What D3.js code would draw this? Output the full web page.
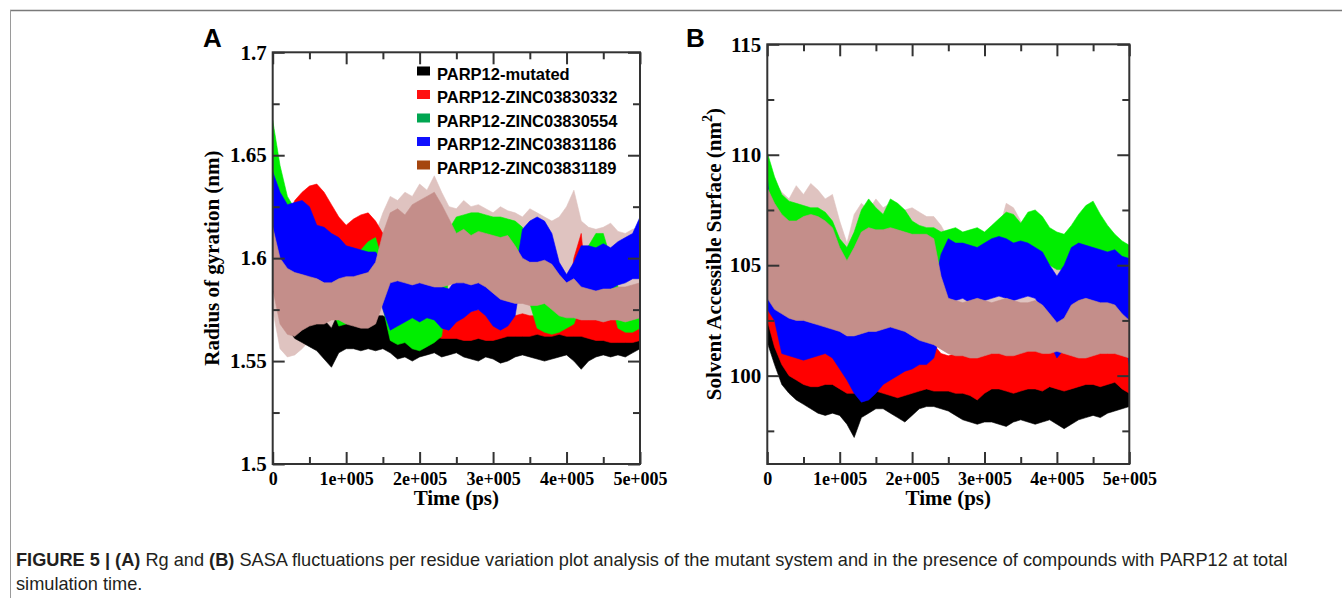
<!DOCTYPE html>
<html>
<head>
<meta charset="utf-8">
<script src="https://cdn.jsdelivr.net/npm/d3@7"></script>
<style>
  body { margin: 0; background: #fff; }
  svg { display: block; }
</style>
</head>
<body>
<svg id="fig" width="1342" height="598"></svg>
<script>
// sample times (ps), one envelope point every 10 ns
var timePs = [0,10000,20000,30000,40000,50000,60000,70000,80000,90000,
  100000,110000,120000,130000,140000,150000,160000,170000,180000,190000,
  200000,210000,220000,230000,240000,250000,260000,270000,280000,290000,
  300000,310000,320000,330000,340000,350000,360000,370000,380000,390000,
  400000,410000,420000,430000,440000,450000,460000,470000,480000,490000,
  500000];

var seriesNames = ["PARP12-mutated", "PARP12-ZINC03830332", "PARP12-ZINC03830554", "PARP12-ZINC03831186", "PARP12-ZINC03831189"];
var plotColors = ["#000000", "#ff0000", "#00ee00", "#0000ff", "#c48e8a"];
var legendColors = ["#000000", "#ff1010", "#00a651", "#1010ff", "#a5460f"];
var fringeColor = "#dfc3c0"; // sparse outer spikes of the ZINC03831189 trace

// (A) radius of gyration (nm), low / high envelope of each trace
var rgMutLo = [1.585,1.575,1.566,1.561,1.559,1.557,1.555,1.551,1.547,1.554,
  1.556,1.556,1.555,1.556,1.555,1.556,1.554,1.551,1.552,1.550,
  1.552,1.553,1.554,1.552,1.553,1.554,1.552,1.551,1.550,1.552,
  1.551,1.549,1.550,1.552,1.553,1.552,1.551,1.550,1.551,1.552,
  1.553,1.550,1.546,1.550,1.552,1.553,1.552,1.553,1.552,1.554,1.556];
var rgMutHi = [1.600,1.592,1.584,1.578,1.577,1.576,1.574,1.570,1.566,1.574,
  1.574,1.572,1.571,1.572,1.572,1.572,1.570,1.569,1.570,1.567,
  1.569,1.570,1.571,1.569,1.570,1.570,1.569,1.568,1.567,1.569,
  1.569,1.567,1.568,1.569,1.570,1.569,1.567,1.566,1.567,1.568,
  1.569,1.567,1.565,1.567,1.569,1.569,1.569,1.570,1.569,1.570,1.572];
var rg332Lo = [1.590,1.595,1.600,1.604,1.606,1.607,1.608,1.606,1.602,1.600,
  1.600,1.602,1.603,1.602,1.600,1.596,1.562,1.562,1.563,1.562,
  1.561,1.562,1.562,1.561,1.561,1.561,1.560,1.560,1.561,1.560,
  1.560,1.561,1.562,1.562,1.562,1.562,1.563,1.562,1.562,1.563,
  1.562,1.562,1.562,1.561,1.560,1.560,1.559,1.559,1.559,1.559,1.560];
var rg332Hi = [1.610,1.615,1.620,1.628,1.632,1.635,1.636,1.632,1.626,1.620,
  1.616,1.619,1.621,1.622,1.618,1.612,1.575,1.572,1.573,1.571,
  1.572,1.573,1.572,1.573,1.574,1.574,1.575,1.574,1.575,1.574,
  1.575,1.574,1.573,1.572,1.573,1.572,1.572,1.571,1.572,1.572,
  1.573,1.600,1.612,1.575,1.576,1.575,1.576,1.575,1.576,1.577,1.578];
var rg554Lo = [1.628,1.618,1.608,1.602,1.600,1.596,1.592,1.588,1.576,1.567,
  1.568,1.576,1.584,1.590,1.590,1.576,1.560,1.558,1.559,1.556,
  1.555,1.557,1.559,1.562,1.592,1.597,1.598,1.600,1.600,1.598,
  1.596,1.595,1.595,1.595,1.593,1.578,1.566,1.564,1.563,1.564,
  1.566,1.568,1.578,1.586,1.592,1.592,1.580,1.566,1.564,1.564,1.566];
var rg554Hi = [1.667,1.645,1.630,1.624,1.620,1.615,1.610,1.608,1.598,1.584,
  1.588,1.598,1.604,1.608,1.610,1.598,1.582,1.578,1.580,1.578,
  1.577,1.577,1.580,1.588,1.614,1.620,1.621,1.622,1.622,1.621,
  1.620,1.620,1.619,1.618,1.615,1.598,1.585,1.584,1.582,1.584,
  1.584,1.588,1.598,1.606,1.612,1.612,1.600,1.586,1.582,1.582,1.585];
var rg186Lo = [1.612,1.592,1.583,1.585,1.588,1.590,1.590,1.588,1.585,1.588,
  1.589,1.590,1.590,1.589,1.588,1.575,1.565,1.567,1.569,1.571,
  1.569,1.571,1.570,1.566,1.565,1.569,1.571,1.574,1.575,1.572,
  1.567,1.565,1.567,1.572,1.594,1.598,1.598,1.597,1.592,1.578,
  1.574,1.577,1.584,1.583,1.582,1.585,1.585,1.587,1.588,1.590,1.590];
var rg186Hi = [1.642,1.632,1.626,1.627,1.628,1.625,1.616,1.615,1.612,1.610,
  1.606,1.605,1.604,1.603,1.603,1.598,1.592,1.590,1.592,1.594,
  1.592,1.597,1.592,1.586,1.585,1.590,1.592,1.595,1.597,1.592,
  1.588,1.585,1.588,1.592,1.614,1.618,1.620,1.618,1.612,1.598,
  1.592,1.598,1.606,1.606,1.605,1.607,1.605,1.608,1.610,1.612,1.620];
var rg189Lo = [1.585,1.568,1.563,1.562,1.565,1.567,1.568,1.568,1.570,1.570,
  1.568,1.567,1.566,1.566,1.568,1.578,1.588,1.589,1.588,1.587,
  1.588,1.587,1.586,1.586,1.587,1.588,1.588,1.587,1.588,1.586,
  1.583,1.580,1.579,1.578,1.578,1.577,1.577,1.578,1.575,1.572,
  1.571,1.571,1.570,1.570,1.570,1.569,1.570,1.570,1.569,1.570,1.571];
var rg189Hi = [1.615,1.600,1.595,1.593,1.592,1.591,1.590,1.588,1.588,1.590,
  1.591,1.591,1.592,1.593,1.598,1.612,1.622,1.624,1.621,1.626,
  1.628,1.630,1.632,1.626,1.619,1.612,1.614,1.611,1.613,1.612,
  1.611,1.610,1.611,1.606,1.600,1.598,1.598,1.599,1.597,1.592,
  1.588,1.590,1.586,1.585,1.584,1.585,1.585,1.586,1.586,1.587,1.588];
var rg189FringeLo = [1.575,1.556,1.552,1.553,1.556,1.560,1.562,1.563,1.564,1.565,
  1.564,1.563,1.562,1.562,1.563,1.568,1.575,1.576,1.575,1.574,
  1.575,1.574,1.573,1.573,1.574,1.575,1.575,1.574,1.575,1.574,
  1.572,1.570,1.569,1.568,1.568,1.567,1.567,1.568,1.566,1.565,
  1.565,1.565,1.564,1.564,1.564,1.563,1.564,1.564,1.563,1.564,1.565];
var rg189FringeHi = [1.625,1.615,1.605,1.600,1.598,1.600,1.598,1.597,1.600,1.602,
  1.605,1.603,1.606,1.605,1.612,1.622,1.630,1.628,1.632,1.630,
  1.636,1.633,1.640,1.632,1.625,1.624,1.628,1.625,1.626,1.624,
  1.622,1.625,1.623,1.622,1.620,1.624,1.622,1.620,1.618,1.620,
  1.625,1.633,1.618,1.615,1.614,1.615,1.617,1.613,1.612,1.614,1.615];

// (B) solvent accessible surface (nm^2), low / high envelope of each trace
var sasaMutLo = [101.5,100.5,99.6,99.2,98.9,98.7,98.5,98.3,98.2,98.3,
  98.2,97.8,97.2,98.1,98.3,98.5,98.5,98.3,98.1,97.9,
  98.2,98.5,98.6,98.6,98.5,98.4,98.2,98.0,97.9,97.8,
  97.9,97.9,97.8,97.7,97.9,98.0,97.9,97.8,97.9,98.0,
  97.8,97.6,97.8,98.0,98.1,98.2,98.1,98.3,98.4,98.5,98.6];
var sasaMutHi = [104.0,102.5,101.8,101.3,101.0,100.8,100.6,100.4,100.3,100.4,
  100.2,99.8,99.6,100.3,100.5,100.6,100.8,100.7,100.4,100.2,
  100.5,100.8,101.0,100.9,100.8,100.6,100.4,100.3,100.2,100.2,
  100.3,100.3,100.2,100.0,100.3,100.4,100.3,100.1,100.2,100.4,
  100.3,100.1,100.2,100.3,100.4,100.5,100.4,100.5,100.6,100.7,100.8];
var sasa332Lo = [102.5,101.3,100.5,100.0,99.8,99.6,99.5,99.5,99.6,99.6,
  99.4,99.2,99.2,99.3,99.3,99.3,99.2,99.1,99.0,99.1,
  99.2,99.3,99.4,99.3,99.3,99.3,99.2,99.2,99.1,98.9,
  99.2,99.4,99.4,99.3,99.2,99.3,99.4,99.4,99.3,99.5,
  99.4,99.3,99.4,99.5,99.6,99.6,99.5,99.6,99.7,99.4,99.2];
var sasa332Hi = [104.5,103.5,102.8,102.4,102.2,102.0,101.9,101.8,101.8,101.8,
  101.6,101.5,101.5,101.6,101.7,101.7,101.6,101.4,101.2,101.2,
  101.3,101.4,101.5,101.4,101.0,100.9,101.0,101.0,100.9,100.8,
  101.0,101.2,101.3,101.2,101.0,101.2,101.3,101.3,101.1,101.2,
  101.2,101.0,101.0,101.1,101.2,101.3,101.2,101.3,101.4,101.3,101.2];
var sasa554Lo = [107.5,106.5,106.0,105.8,105.6,105.5,105.5,105.4,105.3,105.2,
  104.8,104.3,104.5,105.0,105.2,105.0,104.8,104.8,104.9,105.0,
  105.1,105.0,104.9,104.8,104.8,104.8,104.8,104.7,104.7,104.7,
  104.8,104.8,105.0,105.2,105.2,105.0,105.3,105.4,105.2,105.0,
  104.8,104.8,104.9,105.0,105.2,105.3,105.0,104.8,104.6,104.6,104.5];
var sasa554Hi = [110.1,109.0,108.2,107.9,107.8,107.7,107.6,107.6,107.4,107.0,
  106.2,105.8,106.5,107.5,108.0,107.6,107.3,108.0,107.8,107.5,
  107.0,106.8,106.7,106.7,106.5,106.6,106.7,106.5,106.6,106.7,
  106.5,106.8,107.1,107.4,107.3,106.9,107.4,107.5,107.2,106.7,
  106.5,106.4,106.8,107.3,107.7,107.9,107.3,106.8,106.4,106.1,105.9];
var sasa186Lo = [103.0,102.5,101.0,100.9,100.8,100.7,100.8,100.9,101.0,100.8,
  100.3,99.8,99.2,98.8,98.9,99.2,99.6,99.8,100.0,100.2,
  100.3,100.5,100.5,100.8,102.0,103.2,103.4,103.5,103.3,103.2,
  103.4,103.5,103.6,103.5,103.4,103.5,103.6,103.5,103.0,101.5,
  100.8,101.2,103.0,103.3,103.2,103.0,103.1,103.0,103.2,102.5,100.5];
var sasa186Hi = [109.0,104.8,104.0,104.0,103.8,103.6,103.5,103.4,103.3,103.4,
  103.3,103.0,102.8,103.0,103.4,103.2,103.0,103.2,103.4,103.3,
  103.0,103.2,103.5,104.0,105.5,106.2,106.0,106.0,105.9,105.8,
  106.0,106.2,106.3,106.2,106.0,106.1,106.0,105.8,105.6,105.0,
  104.5,105.0,105.8,106.0,105.9,105.8,105.7,105.6,105.7,105.4,105.3];
var sasa189Lo = [103.5,103.0,102.8,102.6,102.5,102.5,102.4,102.3,102.2,102.1,
  102.0,101.8,101.8,101.9,102.0,102.0,102.1,102.2,102.1,102.0,
  101.8,101.6,101.5,101.4,101.2,101.0,100.9,100.9,100.8,100.8,
  100.9,101.0,101.0,100.9,100.9,101.0,101.1,101.1,101.0,101.0,
  101.1,101.0,100.9,100.8,100.8,100.9,101.0,101.0,101.0,100.9,100.8];
var sasa189Hi = [108.5,107.8,107.3,107.0,107.0,107.2,107.3,107.2,107.0,106.7,
  105.8,105.2,105.8,106.5,106.7,106.6,106.6,106.7,106.6,106.5,
  106.4,106.4,106.4,106.2,104.5,103.5,103.4,103.3,103.4,103.5,
  103.4,103.3,103.4,103.5,103.4,103.3,103.3,103.4,103.2,102.8,
  102.4,102.6,103.2,103.4,103.5,103.4,103.3,103.3,103.2,102.8,102.5];
var sasa189FringeHi = [109.0,108.8,108.3,108.0,108.6,108.2,108.7,108.4,108.0,108.2,
  107.0,106.0,107.3,107.8,107.5,108.0,107.6,107.8,107.4,107.5,
  107.6,107.4,107.2,107.2,106.8,106.2,106.3,106.3,106.4,106.4,
  106.3,106.5,106.6,107.8,107.6,107.0,106.6,106.8,106.6,106.5,
  106.4,106.3,106.5,106.8,107.0,106.8,106.6,106.4,106.2,106.0,105.8];

// axis ticks
var timeMajor = [0, 100000, 200000, 300000, 400000, 500000];
var timeMinor = [50000, 150000, 250000, 350000, 450000];
var rgMajor = [1.5, 1.55, 1.6, 1.65, 1.7];
var rgMinor = [1.525, 1.575, 1.625, 1.675];
var sasaMajor = [100, 105, 110, 115];
var sasaMinor = [97.5, 102.5, 107.5, 112.5];

var svg = d3.select("#fig");
var serif = "'Liberation Serif', 'Times New Roman', serif";
var sans = "'Liberation Sans', Arial, Helvetica, sans-serif";

// page frame
svg.append("line").attr("x1", 10).attr("x2", 1342).attr("y1", 10.5).attr("y2", 10.5)
  .attr("stroke", "#7a7a7a").attr("stroke-width", 1.6);
svg.append("line").attr("x1", 10.5).attr("x2", 10.5).attr("y1", 10).attr("y2", 598)
  .attr("stroke", "#9a9a9a").attr("stroke-width", 1);

function drawPanel(p) {
  var x = d3.scaleLinear().domain([0, 500000]).range([p.left, p.right]);
  var y = d3.scaleLinear().domain(p.yDomain).range([p.bottom, p.top]);

  svg.append("clipPath").attr("id", p.id + "clip")
    .append("rect").attr("x", p.left).attr("y", p.top)
    .attr("width", p.right - p.left).attr("height", p.bottom - p.top);

  var plot = svg.append("g").attr("clip-path", "url(#" + p.id + "clip)");

  function band(lo, hi) {
    return d3.area()
      .x(function(d, i) { return x(timePs[i]); })
      .y0(function(d, i) { return y(lo[i]); })
      .y1(function(d, i) { return y(hi[i]); });
  }

  // faint outer spikes of the last trace sit underneath everything
  plot.append("path").datum(timePs)
    .attr("d", band(p.fringe.lo, p.fringe.hi))
    .attr("fill", fringeColor).attr("stroke", fringeColor).attr("stroke-width", 0.6);

  p.series.forEach(function(s, k) {
    plot.append("path")
      .datum(timePs)
      .attr("d", band(s.lo, s.hi))
      .attr("fill", plotColors[k])
      .attr("stroke", plotColors[k])
      .attr("stroke-width", 0.6);
  });

  function styleAxis(g, size) {
    g.select(".domain").remove();
    g.selectAll("line").attr("stroke", "#333").attr("stroke-width", 2);
    g.selectAll("text").attr("font-family", serif).attr("font-size", size)
      .attr("font-weight", "bold").attr("fill", "#000");
  }
  var fmtTime = function(d) { return d === 0 ? "0" : (d / 100000) + "e+005"; };

  // bottom + top
  svg.append("g").attr("transform", "translate(0," + p.bottom + ")")
    .call(d3.axisBottom(x).tickValues(timeMajor).tickSize(-12).tickPadding(8).tickFormat(fmtTime))
    .call(styleAxis, 18);
  svg.append("g").attr("transform", "translate(0," + p.bottom + ")")
    .call(d3.axisBottom(x).tickValues(timeMinor).tickSize(-7).tickFormat(""))
    .call(styleAxis, 18);
  svg.append("g").attr("transform", "translate(0," + p.top + ")")
    .call(d3.axisTop(x).tickValues(timeMajor).tickSize(-12).tickFormat(""))
    .call(styleAxis, 18);
  svg.append("g").attr("transform", "translate(0," + p.top + ")")
    .call(d3.axisTop(x).tickValues(timeMinor).tickSize(-7).tickFormat(""))
    .call(styleAxis, 18);
  // left + right
  svg.append("g").attr("transform", "translate(" + p.left + ",0)")
    .call(d3.axisLeft(y).tickValues(p.yMajor).tickSize(-12).tickPadding(6).tickFormat(String))
    .call(styleAxis, 21);
  svg.append("g").attr("transform", "translate(" + p.left + ",0)")
    .call(d3.axisLeft(y).tickValues(p.yMinor).tickSize(-7).tickFormat(""))
    .call(styleAxis, 21);
  svg.append("g").attr("transform", "translate(" + p.right + ",0)")
    .call(d3.axisRight(y).tickValues(p.yMajor).tickSize(-12).tickFormat(""))
    .call(styleAxis, 21);
  svg.append("g").attr("transform", "translate(" + p.right + ",0)")
    .call(d3.axisRight(y).tickValues(p.yMinor).tickSize(-7).tickFormat(""))
    .call(styleAxis, 21);

  svg.append("rect").attr("x", p.left).attr("y", p.top)
    .attr("width", p.right - p.left).attr("height", p.bottom - p.top)
    .attr("fill", "none").attr("stroke", "#333").attr("stroke-width", 2);

  // titles
  svg.append("text")
    .attr("x", (p.left + p.right) / 2).attr("y", 505)
    .attr("text-anchor", "middle").attr("font-family", serif)
    .attr("font-size", 21).attr("font-weight", "bold")
    .text("Time (ps)");

  var yt = svg.append("text")
    .attr("transform", "translate(" + p.titleX + "," + (p.top + p.bottom) / 2 + ") rotate(-90)")
    .attr("text-anchor", "middle").attr("font-family", serif)
    .attr("font-size", 21).attr("font-weight", "bold");
  yt.append("tspan").text(p.yTitle);
  if (p.yTitleSup) {
    yt.append("tspan").attr("font-size", 14).attr("dy", -9).text(p.yTitleSup);
    yt.append("tspan").attr("dy", 9).text(")");
  }

  svg.append("text")
    .attr("x", p.letterX).attr("y", 47)
    .attr("font-family", sans).attr("font-size", 26).attr("font-weight", "bold")
    .text(p.letter);

  return { x: x, y: y };
}

drawPanel({
  id: "a", letter: "A", letterX: 203,
  left: 272.7, right: 640, top: 52.3, bottom: 464,
  yDomain: [1.5, 1.7], yMajor: rgMajor, yMinor: rgMinor,
  titleX: 219, yTitle: "Radius of gyration (nm)",
  fringe: { lo: rg189FringeLo, hi: rg189FringeHi },
  series: [
    { lo: rgMutLo, hi: rgMutHi },
    { lo: rg332Lo, hi: rg332Hi },
    { lo: rg554Lo, hi: rg554Hi },
    { lo: rg186Lo, hi: rg186Hi },
    { lo: rg189Lo, hi: rg189Hi }
  ]
});

drawPanel({
  id: "b", letter: "B", letterX: 686,
  left: 767.3, right: 1129.3, top: 44.3, bottom: 464,
  yDomain: [96, 115], yMajor: sasaMajor, yMinor: sasaMinor,
  titleX: 721, yTitle: "Solvent Accessible Surface (nm", yTitleSup: "2",
  fringe: { lo: sasa189Lo, hi: sasa189FringeHi },
  series: [
    { lo: sasaMutLo, hi: sasaMutHi },
    { lo: sasa332Lo, hi: sasa332Hi },
    { lo: sasa554Lo, hi: sasa554Hi },
    { lo: sasa186Lo, hi: sasa186Hi },
    { lo: sasa189Lo, hi: sasa189Hi }
  ]
});

// legend (panel A)
var legend = svg.append("g");
seriesNames.forEach(function(name, i) {
  var by = 79.5 + i * 23.5;
  legend.append("rect").attr("x", 417).attr("y", by - 13).attr("width", 13).attr("height", 9)
    .attr("fill", legendColors[i]);
  legend.append("text").attr("x", 437).attr("y", by)
    .attr("font-family", sans).attr("font-size", 16.5).attr("font-weight", "bold")
    .text(name);
});

// caption
var cap1 = svg.append("text").attr("x", 16).attr("y", 566)
  .attr("font-family", sans).attr("font-size", 18.2).attr("fill", "#231f20");
cap1.append("tspan").attr("font-weight", "bold").text("FIGURE 5 | (A)");
cap1.append("tspan").text(" Rg and ");
cap1.append("tspan").attr("font-weight", "bold").text("(B)");
cap1.append("tspan").text(" SASA fluctuations per residue variation plot analysis of the mutant system and in the presence of compounds with PARP12 at total");
svg.append("text").attr("x", 16).attr("y", 590)
  .attr("font-family", sans).attr("font-size", 18.2).attr("fill", "#231f20")
  .text("simulation time.");
</script>
</body>
</html>
